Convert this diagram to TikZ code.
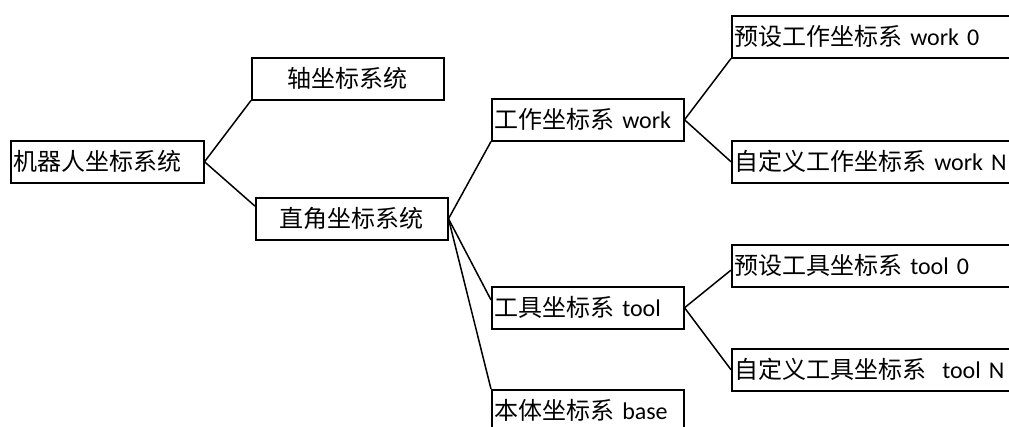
\documentclass[tikz,border=0pt]{standalone}
\usepackage{fontspec}
\setmainfont{Carlito}
\newfontfamily\cjk{Noto Sans CJK SC}
\usetikzlibrary{calc}
\newcommand{\zh}[1]{{\cjk #1}}
\tikzset{
  lbox/.style={draw, line width=1.5bp, anchor=north west, inner xsep=2.5bp, inner ysep=0pt,
    minimum height=42bp, text width=#1-5bp, align=left,
    font=\fontsize{24bp}{28bp}\selectfont},
  cbox/.style={draw, line width=1.5bp, anchor=north west, inner xsep=2.5bp, inner ysep=0pt,
    minimum height=42bp, text width=#1-5bp, align=center,
    font=\fontsize{24bp}{28bp}\selectfont},
  link/.style={line width=1.5bp}
}
\begin{document}
\begin{tikzpicture}[x=1bp,y=-1bp]
\useasboundingbox (0,0) rectangle (1009,426);
\clip (0,0) rectangle (1009,426);
\node[lbox=193bp] (root) at (10,140) {\zh{机器人坐标系统}};
\node[cbox=192bp] (zhou) at (251,57) {\zh{轴坐标系统}};
\node[cbox=192bp] (zj) at (255,197) {\zh{直角坐标系统}};
\node[lbox=192bp] (work) at (491,98) {\zh{工作坐标系} work};
\node[lbox=192bp] (tool) at (491,286) {\zh{工具坐标系} tool};
\node[lbox=192bp] (base) at (491,389) {\zh{本体坐标系} base};
\node[lbox=330bp] (w0) at (731,15) {\zh{预设工作坐标系} work 0};
\node[lbox=330bp] (wN) at (731,140) {\zh{自定义工作坐标系} work N};
\node[lbox=330bp] (t0) at (731,244) {\zh{预设工具坐标系} tool 0};
\node[lbox=330bp] (tN) at (731,348) {\zh{自定义工具坐标系}\ \ tool N};
\draw[link] (root.east) -- (zhou.south west);
\draw[link] (root.east) -- ($(zj.north west)!0.21!(zj.south west)$);
\draw[link] (zj.east) -- (work.south west);
\draw[link] (zj.east) -- ($(tool.north west)!0.32!(tool.south west)$);
\draw[link] (zj.east) -- (base.north west);
\draw[link] (work.east) -- (w0.south west);
\draw[link] (work.east) -- (wN.west);
\draw[link] (tool.east) -- ($(t0.north west)!0.6!(t0.south west)$);
\draw[link] (tool.east) -- (tN.west);
\end{tikzpicture}
\end{document}
